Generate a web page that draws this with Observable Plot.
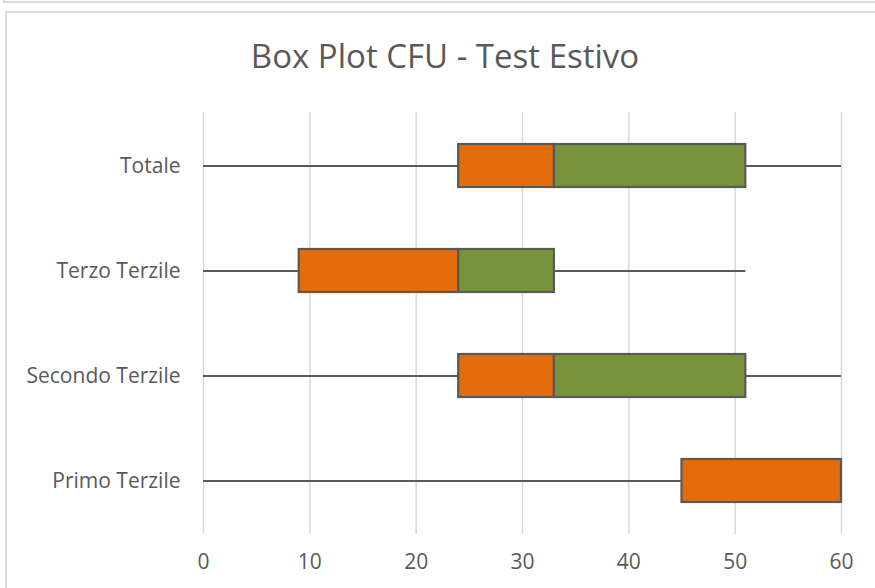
<!DOCTYPE html>
<html>
<head>
<meta charset="utf-8">
<script src="https://cdn.jsdelivr.net/npm/d3@7"></script>
<script src="https://cdn.jsdelivr.net/npm/@observablehq/plot@0.6"></script>
<style>
  html, body { margin: 0; padding: 0; background: #fff; }
  #wrap { position: relative; width: 875px; height: 588px; overflow: hidden; font-family: "Open Sans", sans-serif; }
  #prev { position: absolute; left: 3px; top: -10px; width: 900px; height: 13px; border: 2px solid #d9d9d9; box-sizing: border-box; }
  #frame { position: absolute; left: 5px; top: 11px; width: 900px; height: 600px; border: 2px solid #d9d9d9; box-sizing: border-box; }
  #title { position: absolute; left: 0; width: 890px; top: 34px; text-align: center; font-size: 33px; color: #595959; line-height: 44px; white-space: nowrap; }
  #chart { position: absolute; left: 0; top: 0; }
</style>
</head>
<body>
<div id="wrap">
  <div id="prev"></div>
  <div id="frame"></div>
  <div id="chart"></div>
  <div id="title">Box Plot CFU - Test Estivo</div>
</div>
<script>
const categories = ["Totale", "Terzo Terzile", "Secondo Terzile", "Primo Terzile"];
const minVals = [0, 0, 0, 0];
const q1Vals = [24, 9, 24, 45];
const medianVals = [33, 24, 33, 60];
const q3Vals = [51, 33, 51, 60];
const maxVals = [60, 51, 60, 60];
const xTicks = [0, 10, 20, 30, 40, 50, 60];

const rows = categories.map((c, i) => ({
  cat: c, min: minVals[i], q1: q1Vals[i], med: medianVals[i], q3: q3Vals[i], max: maxVals[i]
}));

const stroke = "#595959";
const chart = Plot.plot({
  width: 875,
  height: 588,
  marginLeft: 203,
  marginRight: 34,
  marginTop: 112,
  marginBottom: 54,
  style: { fontFamily: "'Open Sans', sans-serif", fontSize: "21px", color: "#595959", background: "transparent" },
  x: { domain: [0, 60], ticks: xTicks, label: null },
  y: { type: "band", domain: categories, padding: 0, label: null },
  marks: [
    Plot.gridX(xTicks, { stroke: "#d9d9d9", strokeOpacity: 1, strokeWidth: 1.5 }),
    Plot.axisX({ ticks: xTicks, tickSize: 0, tickPadding: 20, fontSize: 21, fill: "#595959" }),
    Plot.axisY({ tickSize: 0, tickPadding: 23, fontSize: 21, fill: "#595959" }),
    Plot.ruleY(rows.filter(d => d.q1 > d.min), { y: "cat", x1: "min", x2: "q1", stroke, strokeWidth: 2.2 }),
    Plot.ruleY(rows.filter(d => d.max > d.q3), { y: "cat", x1: "q3", x2: "max", stroke, strokeWidth: 2.2 }),
    Plot.rectX(rows.filter(d => d.med > d.q1), { y: "cat", x1: "q1", x2: "med", fill: "#e46c0a", stroke, strokeWidth: 2.2, insetTop: 31, insetBottom: 31 }),
    Plot.rectX(rows.filter(d => d.q3 > d.med), { y: "cat", x1: "med", x2: "q3", fill: "#77933c", stroke, strokeWidth: 2.2, insetTop: 31, insetBottom: 31 })
  ]
});
document.getElementById("chart").appendChild(chart);
</script>
</body>
</html>
